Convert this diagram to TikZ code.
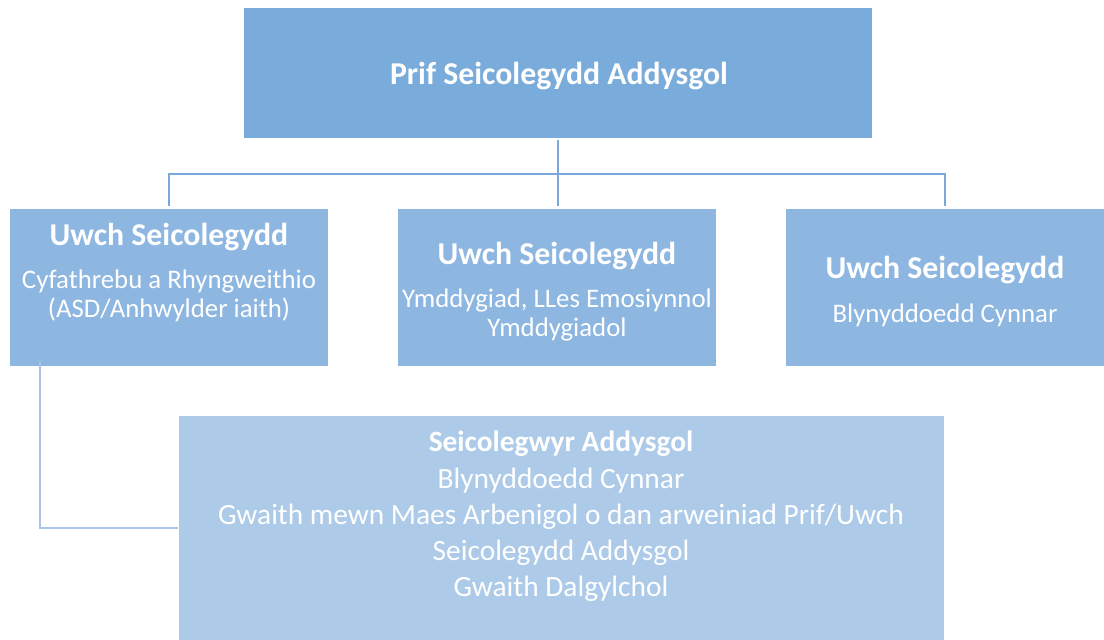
\documentclass[tikz,border=0pt]{standalone}
\usepackage{fontspec}
\setmainfont{Carlito}
\definecolor{topfill}{HTML}{7AACDB}
\definecolor{midfill}{HTML}{8DB6E1}
\definecolor{botfill}{HTML}{ADCBE8}
\definecolor{topline}{HTML}{7AA9DC}
\definecolor{botline}{HTML}{A9C4E8}
\tikzset{
  box/.style={draw=none, inner sep=0pt, anchor=north west},
  hd/.style={text=white, anchor=base, inner sep=0pt, font=\fontsize{31.8}{38}\selectfont\bfseries},
  tx/.style={text=white, anchor=base, inner sep=0pt, font=\fontsize{26.8}{32}\selectfont},
  bhd/.style={text=white, anchor=base, inner sep=0pt, font=\fontsize{29.4}{35}\selectfont\bfseries},
  btx/.style={text=white, anchor=base, inner sep=0pt, font=\fontsize{29.4}{35}\selectfont},
  conn/.style={draw=topline, line width=2.5pt},
  conn2/.style={draw=botline, line width=2.5pt},
}
\begin{document}
\begin{tikzpicture}[x=1pt,y=-1pt]
\useasboundingbox (0,0) rectangle (1104,640);
% boxes
\node[box, fill=topfill, minimum width=628pt, minimum height=130pt] (top) at (244,8) {};
\node[box, fill=midfill, minimum width=318pt, minimum height=157pt] (left) at (10,209) {};
\node[box, fill=midfill, minimum width=318pt, minimum height=157pt] (mid) at (398,209) {};
\node[box, fill=midfill, minimum width=318pt, minimum height=157pt] (right) at (786,209) {};
\node[box, fill=botfill, minimum width=765pt, minimum height=224pt] (bot) at (179,416) {};
% texts
\node[hd] (t0) at (559,84) {Prif Seicolegydd Addysgol};
\node[hd] (l0) at (169,245) {Uwch Seicolegydd};
\node[tx] (l1) at (169,288) {Cyfathrebu a Rhyngweithio};
\node[tx] (l2) at (169,317) {(ASD/Anhwylder iaith)};
\node[hd] (m0) at (557,264) {Uwch Seicolegydd};
\node[tx] (m1) at (557,307) {Ymddygiad, LLes Emosiynnol};
\node[tx] (m2) at (557,336) {Ymddygiadol};
\node[hd] (r0) at (945,278) {Uwch Seicolegydd};
\node[tx] (r1) at (945,322) {Blynyddoedd Cynnar};
\node[bhd] (b0) at (561,451) {Seicolegwyr Addysgol};
\node[btx] (b1) at (561,488) {Blynyddoedd Cynnar};
\node[btx] (b2) at (561,524) {Gwaith mewn Maes Arbenigol o dan arweiniad Prif/Uwch};
\node[btx] (b3) at (561,560) {Seicolegydd Addysgol};
\node[btx] (b4) at (561,596) {Gwaith Dalgylchol};
% connectors
\coordinate (bus) at (top.south |- 0,174);
\draw[conn] ([yshift=-2pt]top.south) -- (bus);
\draw[conn, shorten >=3pt] (bus) -| (left.north);
\draw[conn, shorten >=3pt] (bus) -| (right.north);
\draw[conn, shorten >=3pt] (bus) -- (bus |- mid.north);
\draw[conn2, shorten >=1pt] ([xshift=30pt,yshift=4pt]left.south west) |- (bot.west);
\end{tikzpicture}
\end{document}
